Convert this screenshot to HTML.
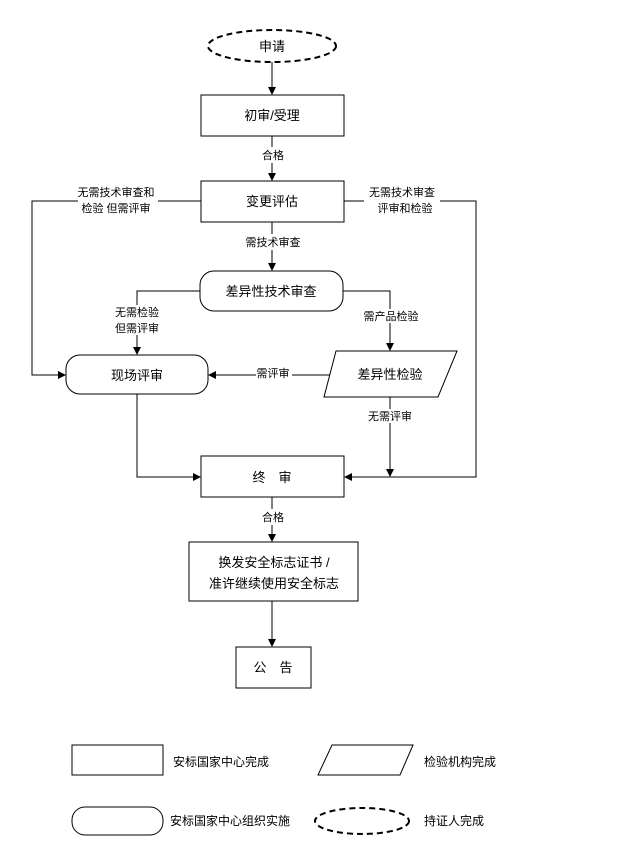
<!DOCTYPE html><html><head><meta charset="utf-8"><style>body{margin:0;background:#fff}svg text{font-family:"Liberation Sans","Noto Sans CJK SC",sans-serif;fill:#000}</style></head><body>
<svg width="636" height="849" viewBox="0 0 636 849" xmlns="http://www.w3.org/2000/svg">
<defs><marker id="a" markerWidth="8" markerHeight="8" refX="7" refY="4" orient="auto" markerUnits="userSpaceOnUse"><path d="M0,0L8,4L0,8z"/></marker></defs>
<g fill="none" stroke="#000" stroke-width="1">
<ellipse cx="272" cy="46" rx="64" ry="16" stroke-dasharray="6,4" stroke-width="2"/>
<line x1="272" y1="62" x2="272" y2="94" marker-end="url(#a)"/>
<rect x="201" y="95" width="143" height="41"/>
<line x1="272" y1="136" x2="272" y2="180" marker-end="url(#a)"/>
<rect x="201" y="181" width="143" height="41"/>
<line x1="272" y1="222" x2="272" y2="270" marker-end="url(#a)"/>
<rect x="200" y="271" width="143" height="40" rx="14"/>
<polyline points="201,201 32,201 32,375 65,375" marker-end="url(#a)"/>
<polyline points="344,201 476,201 476,477 345,477" marker-end="url(#a)"/>
<polyline points="200,291 137,291 137,354" marker-end="url(#a)"/>
<polyline points="343,291 390,291 390,350" marker-end="url(#a)"/>
<rect x="66" y="355" width="142" height="39" rx="14"/>
<polygon points="336,351 457,351 438,397 324,397"/>
<line x1="330" y1="375" x2="209" y2="375" marker-end="url(#a)"/>
<polyline points="137,394 137,477 200,477" marker-end="url(#a)"/>
<line x1="390" y1="397" x2="390" y2="476" marker-end="url(#a)"/>
<rect x="201" y="456" width="143" height="41"/>
<line x1="272" y1="497" x2="272" y2="541" marker-end="url(#a)"/>
<rect x="189" y="542" width="169" height="59"/>
<line x1="272" y1="601" x2="272" y2="646" marker-end="url(#a)"/>
<rect x="236" y="647" width="75" height="41"/>
<rect x="72" y="745" width="91" height="30"/>
<polygon points="332,745 413,745 400,775 318,775"/>
<rect x="72" y="807" width="91" height="28" rx="13"/>
<ellipse cx="362" cy="821" rx="47" ry="13" stroke-dasharray="6,4" stroke-width="2"/>
</g>
<g font-size="13" text-anchor="middle">
<text x="272" y="51">申请</text>
<text x="272" y="120">初审/受理</text>
<text x="272" y="206">变更评估</text>
<text x="271" y="296">差异性技术审查</text>
<text x="137" y="380">现场评审</text>
<text x="390" y="379">差异性检验</text>
<text x="272" y="482">终　审</text>
<text x="274" y="567">换发安全标志证书 /</text>
<text x="274" y="588">准许继续使用安全标志</text>
<text x="273" y="672">公　告</text>
</g>
<g font-size="11" text-anchor="middle">
<rect x="258" y="147" width="30" height="16" fill="#fff"/>
<text x="273" y="159">合格</text>
<rect x="245" y="234" width="56" height="16" fill="#fff"/>
<text x="273" y="246">需技术审查</text>
<rect x="78" y="185" width="80" height="30" fill="#fff"/>
<text x="116" y="196">无需技术审查和</text>
<text x="116" y="212">检验  但需评审</text>
<rect x="364" y="185" width="76" height="30" fill="#fff"/>
<text x="402" y="196">无需技术审查</text>
<text x="405" y="212">评审和检验</text>
<rect x="110" y="305" width="54" height="30" fill="#fff"/>
<text x="137" y="316">无需检验</text>
<text x="137" y="332">但需评审</text>
<rect x="364" y="309" width="54" height="14" fill="#fff"/>
<text x="391" y="320">需产品检验</text>
<rect x="256" y="366" width="36" height="14" fill="#fff"/>
<text x="273" y="377">需评审</text>
<rect x="368" y="409" width="46" height="14" fill="#fff"/>
<text x="390" y="420">无需评审</text>
<rect x="258" y="509" width="30" height="16" fill="#fff"/>
<text x="273" y="521">合格</text>
</g>
<g font-size="12">
<text x="173" y="766">安标国家中心完成</text>
<text x="424" y="766">检验机构完成</text>
<text x="170" y="825">安标国家中心组织实施</text>
<text x="424" y="825">持证人完成</text>
</g>
</svg></body></html>
